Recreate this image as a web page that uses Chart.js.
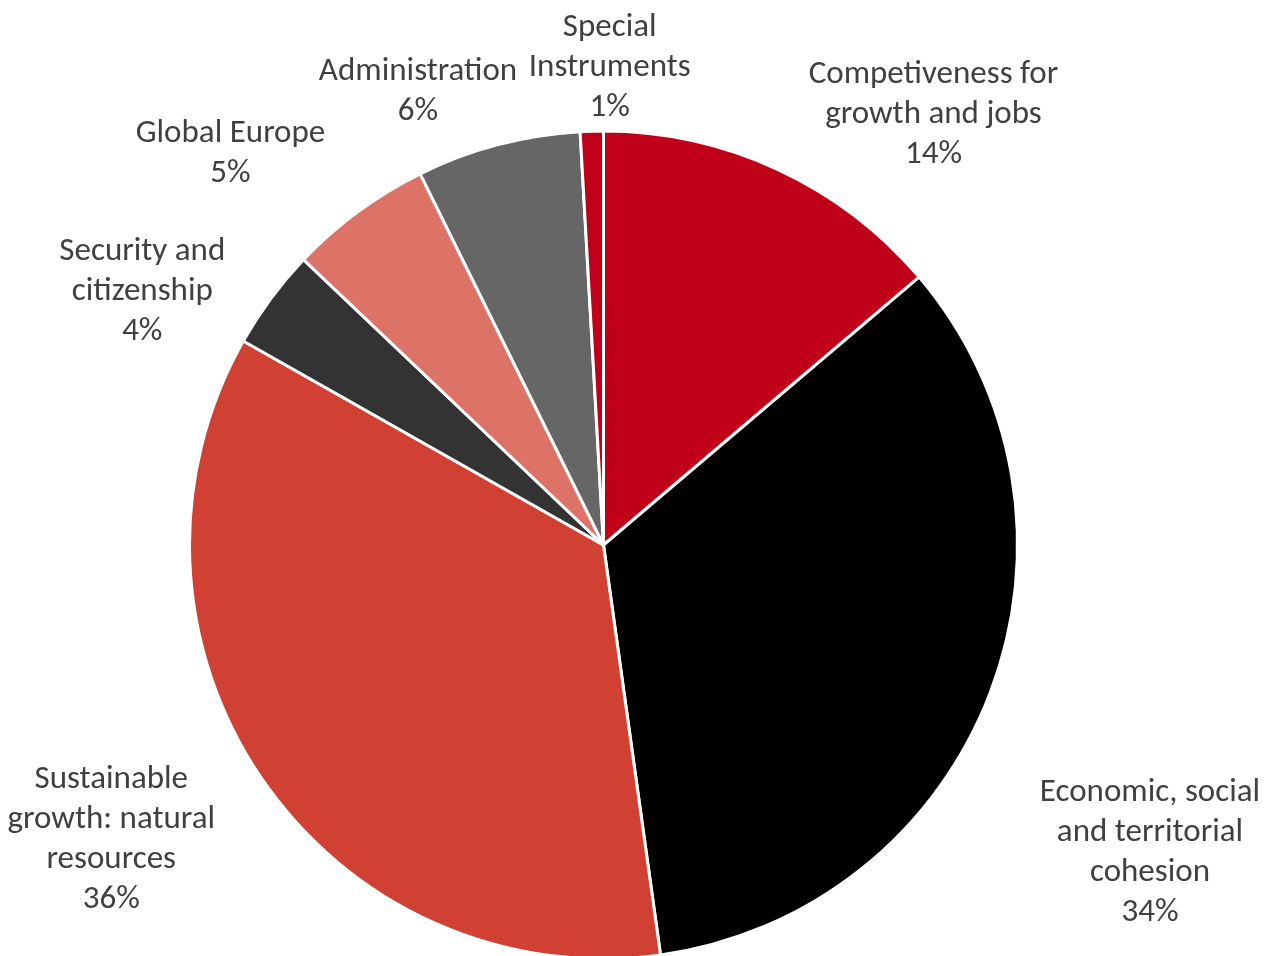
<!DOCTYPE html>
<html>
<head>
<meta charset="utf-8">
<script src="https://cdn.jsdelivr.net/npm/chart.js@4/dist/chart.umd.min.js"></script>
<style>
  body { margin: 0; background: #fff; overflow: hidden; }
  #wrap { width: 1266px; height: 956px; overflow: hidden; }
</style>
</head>
<body>
<div id="wrap"><canvas id="myChart" width="1266" height="961"></canvas></div>
<script>
// budget headings, clockwise from 12 o'clock
let labels = [
    ['Competiveness for', 'growth and jobs'],
    ['Economic, social', 'and territorial', 'cohesion'],
    ['Sustainable', 'growth: natural', 'resources'],
    ['Security and', 'citizenship'],
    ['Global Europe'],
    ['Administration'],
    ['Special', 'Instruments']
];
let shares = [13.8, 34.0, 35.4, 3.9, 5.6, 6.4, 0.9];
let pctLabels = ['14%', '34%', '36%', '4%', '5%', '6%', '1%'];

let colors = ['#C00018', '#000000', '#D04133', '#333333', '#DD7367', '#666666', '#C00018'];

// where each label block sits, relative to pie centre, in units of radius
let labelOffsets = [
    [0.797, -1.040],
    [1.320, 0.744],
    [-1.189, 0.713],
    [-1.114, -0.612],
    [-0.901, -0.946],
    [-0.448, -1.096],
    [0.015, -1.152]
];

let outsideLabels = {
    id: 'outsideLabels',
    afterDatasetsDraw(chart) {
        let ctx = chart.ctx;
        let arc0 = chart.getDatasetMeta(0).data[0];
        let cx = arc0.x, cy = arc0.y, r = arc0.outerRadius;
        ctx.save();
        ctx.font = '33px Carlito, Lato, sans-serif';
        ctx.fillStyle = '#404040';
        ctx.textAlign = 'center';
        ctx.textBaseline = 'middle';
        let lh = 40;
        labels.forEach(function (lines, i) {
            let all = lines.concat([pctLabels[i]]);
            let x = cx + labelOffsets[i][0] * r;
            let y = cy + labelOffsets[i][1] * r - (all.length - 1) * lh / 2;
            all.forEach(function (t, k) {
                ctx.fillText(t, x, y + k * lh);
            });
        });
        ctx.restore();
    }
};

let myChart1 = document.getElementById('myChart').getContext('2d');
let chart1 = new Chart(myChart1, {
    type: 'pie',
    data: {
        labels: labels,
        datasets: [{
            data: shares,
            backgroundColor: colors,
            borderColor: '#ffffff',
            borderWidth: 3
        }]
    },
    options: {
        responsive: false,
        devicePixelRatio: 1,
        animation: false,
        layout: {
            padding: { left: 188, right: 247, top: 129, bottom: 0 }
        },
        plugins: {
            legend: { display: false },
            tooltip: { enabled: false }
        }
    },
    plugins: [outsideLabels]
});
</script>
</body>
</html>
